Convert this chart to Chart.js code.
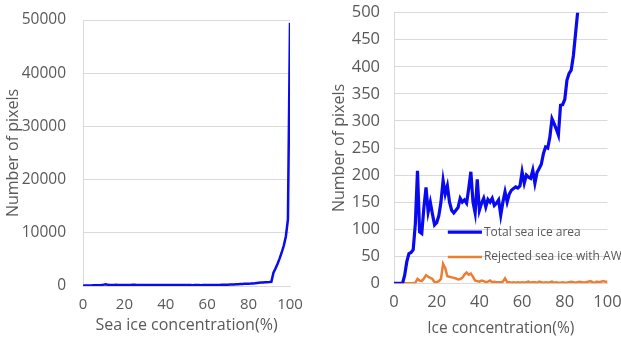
<!DOCTYPE html>
<html>
<head>
<meta charset="utf-8">
<script src="https://cdn.jsdelivr.net/npm/chart.js@4/dist/chart.umd.min.js"></script>
<style>
  html, body { margin: 0; padding: 0; background: #fff; overflow: hidden; }
  #leftBox { position: absolute; left: 0; top: 0; width: 310px; height: 340px; }
  #rightBox { position: absolute; left: 326px; top: 0; width: 295px; height: 340px; }
</style>
</head>
<body>
<div id="leftBox"><canvas id="leftChart"></canvas></div>
<div id="rightBox"><canvas id="rightChart"></canvas></div>
<script>
// ice concentration bins (%)
const concentration = [0,1,2,3,4,5,6,7,8,9,10,11,12,13,14,15,16,17,18,19,20,
  21,22,23,24,25,26,27,28,29,30,31,32,33,34,35,36,37,38,39,40,
  41,42,43,44,45,46,47,48,49,50,51,52,53,54,55,56,57,58,59,60,
  61,62,63,64,65,66,67,68,69,70,71,72,73,74,75,76,77,78,79,80,
  81,82,83,84,85,86,87,88,89,90,91,92,93,94,95,96,97,98,99,100];

// left panel: number of pixels per sea ice concentration
const allPixels = [60,80,90,100,110,120,130,140,150,170,260,330,220,200,190,210,220,200,190,200,210,
  200,190,210,220,230,210,200,190,200,210,200,190,200,210,200,190,180,190,200,190,
  180,190,200,190,180,170,180,190,180,170,180,170,160,170,180,170,160,170,180,170,
  180,190,200,190,200,210,220,230,240,250,270,290,300,320,340,360,380,400,420,440,
  460,490,520,560,600,640,680,700,720,740,780,2500,3300,4200,5200,6300,7600,9300,12500,49500];

// right panel: total sea ice area
const totalArea = [0,0,0,0,0,15,40,55,57,62,110,208,95,92,140,177,132,150,128,108,112,
  125,150,190,165,180,150,135,130,135,140,157,150,154,148,175,206,150,130,192,135,
  148,157,141,155,150,157,144,148,154,126,150,169,150,165,172,175,178,176,180,206,
  185,200,196,194,209,185,205,212,220,240,252,250,270,304,295,285,274,329,330,340,
  375,388,394,420,460,500,545,590,640,700,760,830,900,980,1060,1150,1250,1360,1480,1600];

// right panel: rejected sea ice with AWF
const rejected = [0,0,0,0,0,0,0,0,0,0,1,8,5,4,9,15,12,10,8,2,2,
  4,8,36,28,13,12,11,10,9,7,8,10,16,20,16,18,12,5,4,3,
  5,4,2,3,5,2,3,2,2,2,3,9,2,2,1,2,1,2,1,2,
  1,2,3,1,2,2,1,3,2,1,2,1,2,3,1,2,1,1,2,1,
  1,2,3,2,1,2,3,2,1,2,3,4,2,1,3,2,3,4,3,3];

const grey = '#595959';
const gridCol = '#d9d9d9';

function pts(ys) {
  return concentration.map((c, i) => ({ x: c, y: ys[i] }));
}

// draws the in-plot legend of the right panel
const insideLegend = {
  id: 'insideLegend',
  afterDatasetsDraw(chart, args, opts) {
    const c = chart.ctx, xs = chart.scales.x, ys = chart.scales.y;
    c.save();
    c.font = '12px "Open Sans"';
    c.textBaseline = 'middle';
    chart.data.datasets.forEach((ds, i) => {
      const yv = ys.getPixelForValue(opts.rows[i]);
      c.strokeStyle = ds.borderColor;
      c.lineWidth = ds.borderWidth;
      c.beginPath();
      c.moveTo(xs.getPixelForValue(opts.from), yv);
      c.lineTo(xs.getPixelForValue(opts.to), yv);
      c.stroke();
      c.fillStyle = grey;
      c.fillText(ds.label, xs.getPixelForValue(opts.to) + 2, yv);
    });
    c.restore();
  }
};

function xAxis(title, size, titleSize, tickPad, titlePad, height) {
  return {
    type: 'linear', min: 0, max: 100,
    ticks: { stepSize: 20, color: grey, font: { family: 'Open Sans', size: size }, padding: tickPad, maxRotation: 0 },
    grid: { display: false, drawTicks: false },
    border: { color: gridCol },
    title: { display: true, text: title, color: grey, font: { family: 'Open Sans', size: titleSize }, padding: { top: 0, bottom: titlePad } },
    afterFit(s) { s.height = height; s.paddingLeft = 0; s.paddingRight = 0; }
  };
}

function yAxis(max, step, size, tickPad, width) {
  return {
    min: 0, max: max,
    ticks: { stepSize: step, color: grey, font: { family: 'Open Sans', size: size }, padding: tickPad,
             callback: v => String(v) },
    grid: { color: gridCol, drawTicks: false },
    border: { color: gridCol },
    title: { display: true, text: 'Number of pixels', color: grey, font: { family: 'Open Sans', size: 16 }, padding: 4 },
    afterFit(s) { s.width = width; s.paddingTop = 0; s.paddingBottom = 0; }
  };
}

new Chart(document.getElementById('leftChart'), {
  type: 'line',
  data: {
    datasets: [{
      label: 'Sea ice',
      data: pts(allPixels),
      borderColor: '#0a0aee',
      borderWidth: 2.5,
      pointRadius: 0,
      tension: 0
    }]
  },
  options: {
    responsive: true, maintainAspectRatio: false, animation: false,
    layout: { padding: { left: 0, right: 20, top: 20, bottom: 0 } },
    plugins: { legend: { display: false }, tooltip: { enabled: false } },
    scales: {
      x: xAxis('Sea ice concentration(%)', 15, 16, 10, 5, 54),
      y: yAxis(50000, 10000, 15.5, 17, 83)
    }
  }
});

new Chart(document.getElementById('rightChart'), {
  type: 'line',
  data: {
    datasets: [{
      label: 'Total sea ice area',
      data: pts(totalArea),
      borderColor: '#0a0aee',
      borderWidth: 3.2,
      pointRadius: 0,
      tension: 0
    }, {
      label: 'Rejected sea ice with AWF',
      data: pts(rejected),
      borderColor: '#ed7d31',
      borderWidth: 2.5,
      pointRadius: 0,
      tension: 0
    }]
  },
  options: {
    responsive: true, maintainAspectRatio: false, animation: false,
    layout: { padding: { left: 0, right: 13.5, top: 12.7, bottom: 0 } },
    plugins: {
      legend: { display: false }, tooltip: { enabled: false },
      insideLegend: { from: 25.2, to: 41.2, rows: [94.6, 48.5] }
    },
    scales: {
      x: xAxis('Ice concentration(%)', 16.5, 15.5, 9, 2.5, 56.7),
      y: yAxis(500, 50, 16.5, 14, 68)
    }
  },
  plugins: [insideLegend]
});
</script>
</body>
</html>
